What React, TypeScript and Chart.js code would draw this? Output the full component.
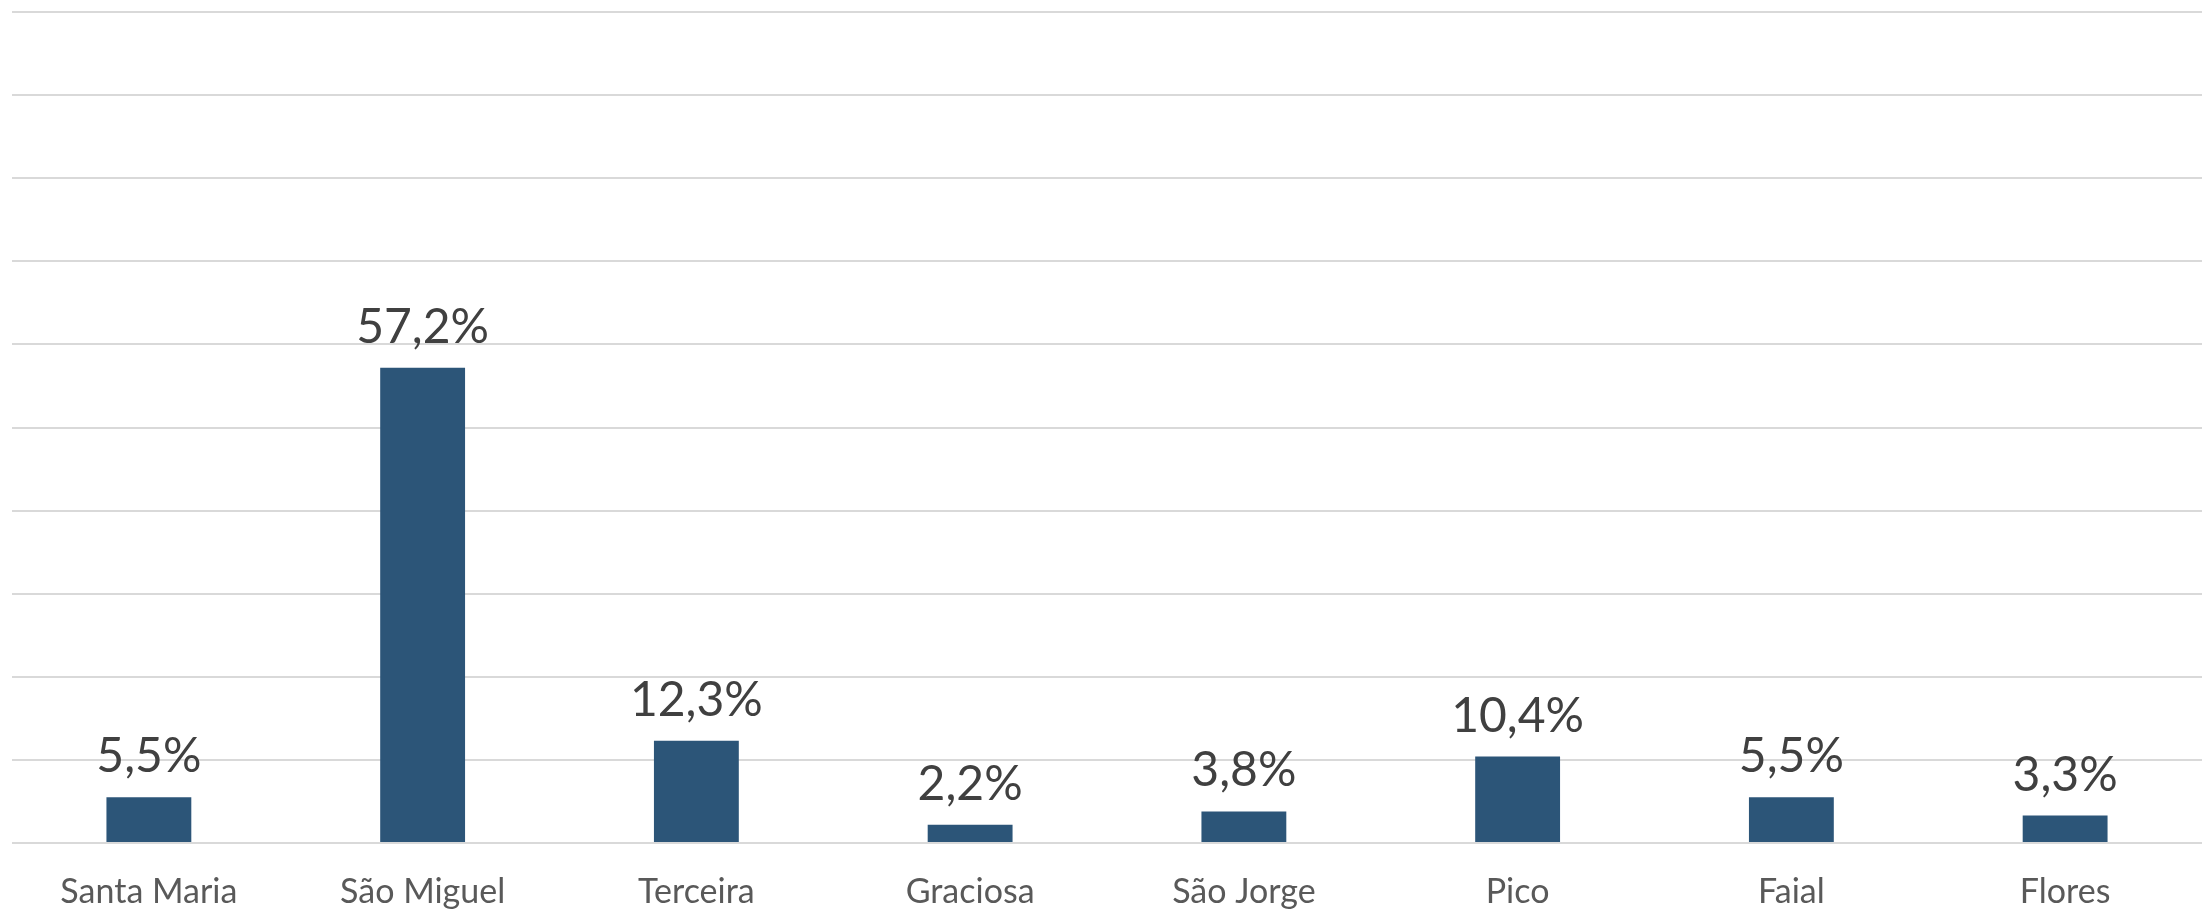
import React, { useEffect, useRef } from "react";
import { Chart, registerables } from "chart.js";

Chart.register(...registerables);

const categories = ["Santa Maria", "São Miguel", "Terceira", "Graciosa", "São Jorge", "Pico", "Faial", "Flores"];
const shares = [5.5, 57.2, 12.3, 2.2, 3.8, 10.4, 5.5, 3.3];
const yMax = 100;
const yStep = 10;

const fmt = (v: number) => v.toFixed(1).replace(".", ",") + "%";

const labelPlugin = {
  id: "barLabels",
  afterDatasetsDraw(chart: any) {
    const ctx = chart.ctx;
    const meta = chart.getDatasetMeta(0);
    ctx.save();
    ctx.font = "48px Lato";
    ctx.fillStyle = "#404040";
    ctx.textAlign = "center";
    ctx.textBaseline = "alphabetic";
    meta.data.forEach((el: any, i: number) => {
      ctx.fillText(fmt(shares[i]), el.x, el.y - 25);
    });
    ctx.restore();
  },
};

export default function App() {
  const ref = useRef<HTMLCanvasElement>(null);
  useEffect(() => {
    const chart = new Chart(ref.current!, {
      type: "bar",
      data: {
        labels: categories,
        datasets: [
          {
            data: shares,
            backgroundColor: "#2c5578",
            barPercentage: 0.31,
            categoryPercentage: 1,
          },
        ],
      },
      options: {
        animation: false,
        responsive: true,
        maintainAspectRatio: false,
        layout: { padding: { left: 12, top: 12, right: 0, bottom: 0 } },
        plugins: { legend: { display: false }, tooltip: { enabled: false } },
        scales: {
          x: {
            grid: { display: false, drawTicks: false },
            border: { display: false },
            ticks: { color: "#595959", font: { family: "Lato", size: 34 }, padding: 29 },
            afterFit: (scale: any) => {
              scale.height = 70;
            },
          },
          y: {
            min: 0,
            max: yMax,
            ticks: { display: false, stepSize: yStep },
            grid: { color: "#d9d9d9", lineWidth: 2, drawTicks: false },
            border: { display: false },
          },
        },
      },
      plugins: [labelPlugin],
    });
    return () => chart.destroy();
  }, []);
  return (
    <div style={{ position: "fixed", left: 0, top: 0, width: 2202, height: 913, background: "#fff" }}>
      <canvas ref={ref} />
    </div>
  );
}
